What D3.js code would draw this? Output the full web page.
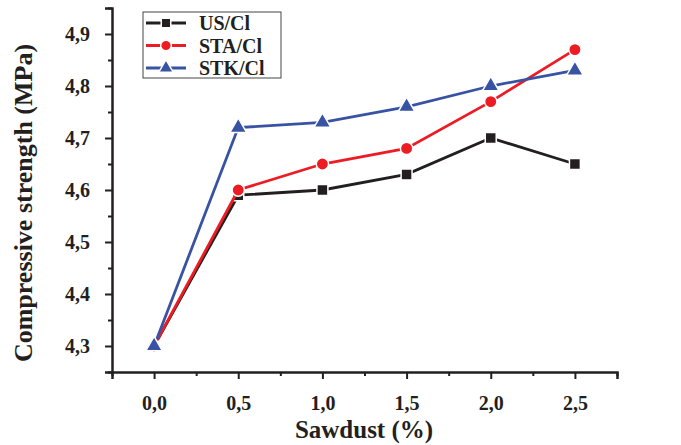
<!DOCTYPE html>
<html><head><meta charset="utf-8">
<script src="https://cdn.jsdelivr.net/npm/d3@7"></script>
<style>body{margin:0;background:#fff}svg{display:block}</style>
</head><body>
<svg id="c" width="681" height="445"></svg>
<script>
const sawdust = [0.0, 0.5, 1.0, 1.5, 2.0, 2.5];
const usCl  = [4.30, 4.59, 4.60, 4.63, 4.70, 4.65];
const staCl = [4.30, 4.60, 4.65, 4.68, 4.77, 4.87];
const stkCl = [4.30, 4.72, 4.73, 4.76, 4.80, 4.83];
const seriesNames = ["US/Cl", "STA/Cl", "STK/Cl"];
const xTicks = [0.0, 0.5, 1.0, 1.5, 2.0, 2.5];
const yTicks = [4.3, 4.4, 4.5, 4.6, 4.7, 4.8, 4.9];

const svg = d3.select("#c");
const font = "'Liberation Serif','Times New Roman',serif";
const x = d3.scaleLinear().domain([-0.25, 2.75]).range([112, 617]);
const y = d3.scaleLinear().domain([4.25, 4.95]).range([372, 8]);
const fmt = d => d3.format(".1f")(d).replace(".", ",");

const series = [
  {name: seriesNames[0], vals: usCl, color: "#231f20", shape: d3.symbolSquare, size: 120},
  {name: seriesNames[1], vals: staCl, color: "#ed1c24", shape: d3.symbolCircle, size: 120},
  {name: seriesNames[2], vals: stkCl, color: "#3953a4", shape: d3.symbolTriangle, size: 120}
];

// axes
const xAxis = svg.append("g").attr("transform", "translate(0,372)")
  .call(d3.axisBottom(x).tickValues(xTicks).tickSize(7).tickFormat(fmt));
const xMinor = svg.append("g").attr("transform", "translate(0,372)")
  .call(d3.axisBottom(x).tickValues([-0.25,0.25,0.75,1.25,1.75,2.25,2.75]).tickSize(4).tickFormat(""));
const yAxis = svg.append("g").attr("transform", "translate(112,0)")
  .call(d3.axisLeft(y).tickValues(yTicks).tickSize(7).tickFormat(fmt));
const yMinor = svg.append("g").attr("transform", "translate(112,0)")
  .call(d3.axisLeft(y).tickValues([4.25,4.35,4.45,4.55,4.65,4.75,4.85,4.95]).tickSize(4).tickFormat(""));
[xAxis, xMinor, yAxis, yMinor].forEach(g => {
  g.selectAll("path").attr("stroke", "#231f20").attr("stroke-width", 2.5);
  g.selectAll("line").attr("stroke", "#231f20").attr("stroke-width", 2);
});
xMinor.select("path").remove(); yMinor.select("path").remove();
xAxis.selectAll("text").attr("font-family", font).attr("font-weight", "bold")
  .attr("font-size", 20).attr("fill", "#231f20").attr("dy", "1.4em");
yAxis.selectAll("text").attr("font-family", font).attr("font-weight", "bold")
  .attr("font-size", 20).attr("fill", "#231f20").attr("dx", "-0.6em");

// titles
svg.append("text").attr("x", 364).attr("y", 438).attr("text-anchor", "middle")
  .attr("font-family", font).attr("font-weight", "bold").attr("font-size", 25)
  .attr("fill", "#231f20").text("Sawdust (%)");
svg.append("text").attr("transform", "translate(32,203) rotate(-90)").attr("text-anchor", "middle")
  .attr("font-family", font).attr("font-weight", "bold").attr("font-size", 26)
  .attr("fill", "#231f20").text("Compressive strength (MPa)");

// series
const line = d3.line().x((d, i) => x(sawdust[i])).y(d => y(d));
series.forEach(s => {
  const g = svg.append("g");
  g.append("path").attr("d", line(s.vals)).attr("fill", "none")
    .attr("stroke", s.color).attr("stroke-width", 2.8);
  g.selectAll("path.m").data(s.vals).join("path").attr("class", "m")
    .attr("transform", (d, i) => `translate(${x(sawdust[i])},${y(d)})`)
    .attr("d", d3.symbol().type(s.shape).size(s.size))
    .attr("fill", s.color).attr("stroke", "#fff").attr("stroke-width", 1.5);
});

// legend
const lg = svg.append("g");
lg.append("rect").attr("x", 143).attr("y", 12).attr("width", 138).attr("height", 66)
  .attr("fill", "#fff").attr("stroke", "#444").attr("stroke-width", 1);
series.forEach((s, i) => {
  const yy = 23 + i * 22.5;
  lg.append("line").attr("x1", 146).attr("x2", 186).attr("y1", yy).attr("y2", yy)
    .attr("stroke", s.color).attr("stroke-width", 2.8);
  lg.append("path").attr("transform", `translate(166,${yy})`)
    .attr("d", d3.symbol().type(s.shape).size(s.size * 0.75))
    .attr("fill", s.color).attr("stroke", "#fff").attr("stroke-width", 1.5);
  lg.append("text").attr("x", 199).attr("y", yy + 7)
    .attr("font-family", font).attr("font-weight", "bold").attr("font-size", 20)
    .attr("fill", "#231f20").text(s.name);
});
</script>
</body></html>
